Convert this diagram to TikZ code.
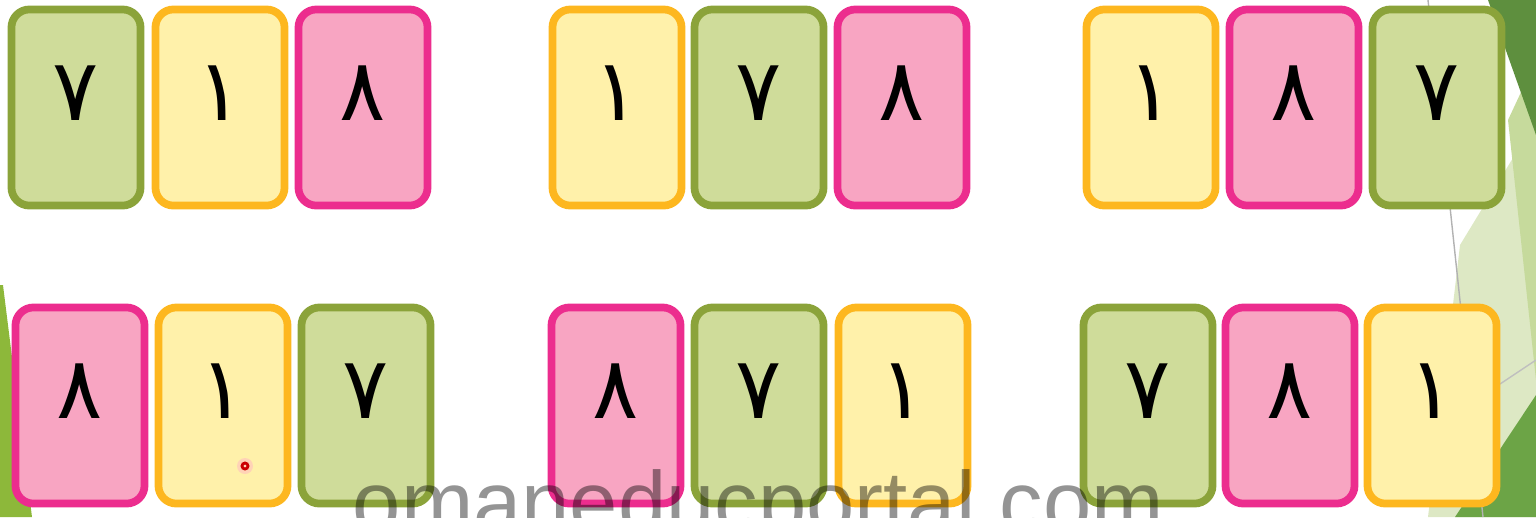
\documentclass[tikz,border=0pt]{standalone}
\usepackage{fontspec}
\setsansfont{Liberation Sans}
\newfontfamily\arabicfont[Script=Arabic]{DejaVu Sans}
\TeXXeTstate=1
\usetikzlibrary{positioning}
\definecolor{grnfill}{HTML}{CFDC9A}
\definecolor{grnline}{HTML}{8BA33A}
\definecolor{ylwfill}{HTML}{FFF1AA}
\definecolor{ylwline}{HTML}{FDB71F}
\definecolor{pnkfill}{HTML}{F8A5C2}
\definecolor{pnkline}{HTML}{EC2D8E}
\definecolor{bgpale}{HTML}{DDE8C4}
\definecolor{bgmid}{HTML}{C6DA9C}
\definecolor{bgdark}{HTML}{5E8F3E}
\definecolor{bgleaf}{HTML}{6CA446}
\definecolor{bgolive}{HTML}{8DB83A}
\tikzset{
    card/.style={rectangle, rounded corners=0.18cm, line width=2.2pt, fill=#1fill, draw=#1line,
        minimum width=1.29cm, minimum height=1.96cm},
    digit/.style={inner sep=0pt, font=\fontsize{24.5}{29}\selectfont\arabicfont},
}

\begin{document}
\begin{tikzpicture}[x=0.01cm, y=-0.01cm]
    \useasboundingbox (0,0) rectangle (1536,517);
    \clip (0,0) rectangle (1536,517);
    % background leaves
    \fill[bgpale] (1460,245) -- (1536,120) -- (1536,517) -- (1428,517) -- cycle;
    \fill[bgmid] (1508,120) -- (1536,60) -- (1536,380) -- cycle;
    \fill[bgdark] (1488,0) -- (1536,0) -- (1536,135) -- cycle;
    \fill[bgleaf] (1536,395) -- (1536,517) -- (1455,517) -- cycle;
    \fill[bgolive] (0,285) -- (3,285) -- (32,517) -- (0,517) -- cycle;
    \draw[gray!60, line width=0.4pt] (1428,0) -- (1483,517);
    \draw[gray!50, line width=0.4pt] (1500,384) -- (1536,360);
    % cards
    \foreach \x/\y/\col/\dg [count=\i] in {
        76/107.5/grn/٧, 220/107.5/ylw/١, 363/107.5/pnk/٨,
        617/107.5/ylw/١, 759/107.5/grn/٧, 902/107.5/pnk/٨,
        1151/107.5/ylw/١, 1294/107.5/pnk/٨, 1437/107.5/grn/٧,
        80/405.5/pnk/٨, 223/405.5/ylw/١, 366/405.5/grn/٧,
        616/405.5/pnk/٨, 759/405.5/grn/٧, 903/405.5/ylw/١,
        1148/405.5/grn/٧, 1290/405.5/pnk/٨, 1432/405.5/ylw/١} {
        \node (c\i) [card=\col] at (\x,\y) {};
        \node (d\i) [digit] at ([yshift=0.14cm]c\i.center) {\beginR\dg\endR};
    }
    % pointer dot and watermark
    \fill[red!25, opacity=0.6] (245,466) circle (8);
    \draw[red!80!black, line width=0.8pt] (245,466) circle (3);
    \node (wm) [anchor=base west, inner sep=0pt, text=black, opacity=0.42,
        font=\fontsize{24.7}{28}\selectfont\sffamily] at (352,532) {omaneducportal.com};
\end{tikzpicture}
\end{document}
